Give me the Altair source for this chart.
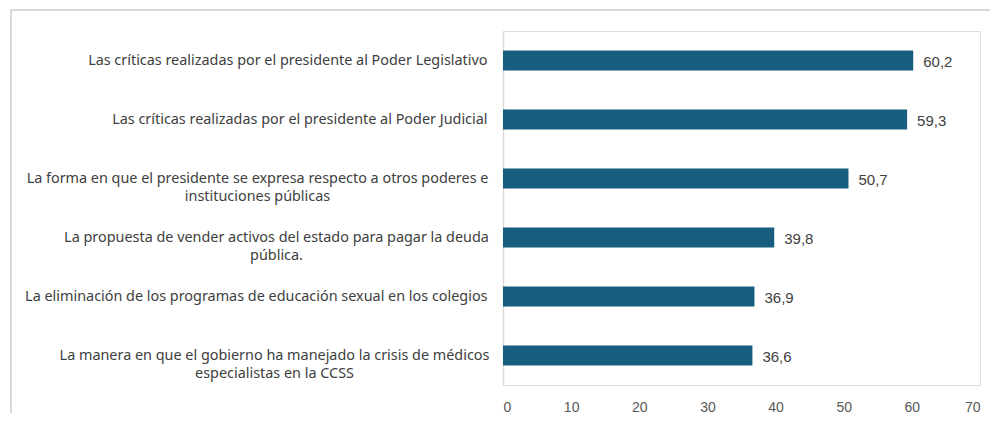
import altair as alt
import pandas as pd

categories = [
    "Las críticas realizadas por el presidente al Poder Legislativo",
    "Las críticas realizadas por el presidente al Poder Judicial",
    "La forma en que el presidente se expresa respecto a otros poderes e|instituciones públicas",
    "La propuesta de vender activos del estado para pagar la deuda|pública.",
    "La eliminación de los programas de educación sexual en los colegios",
    "La manera en que el gobierno ha manejado la crisis de médicos|especialistas en la CCSS",
]
values = [60.2, 59.3, 50.7, 39.8, 36.9, 36.6]
x_ticks = [0, 10, 20, 30, 40, 50, 60, 70]

df = pd.DataFrame({
    "cat": categories,
    "val": values,
    "lab": [f"{v:.1f}".replace(".", ",") for v in values],
})

BAR = "#165D7E"
FRAME = "#D9D9D9"

label_pad = {
    "condition": [
        {"test": "indexof(datum.value, 'La forma') == 0", "value": 246},
        {"test": "indexof(datum.value, 'La propuesta') == 0", "value": 227},
        {"test": "indexof(datum.value, 'La manera') == 0", "value": 229},
    ],
    "value": 16,
}
label_align = {
    "condition": {"test": "indexof(datum.value, '|') >= 0", "value": "center"},
    "value": "right",
}

y_enc = alt.Y(
    "cat:N",
    sort=categories,
    scale=alt.Scale(paddingInner=0.66, paddingOuter=0.33),
    axis=alt.Axis(
        title=None,
        labelExpr="split(datum.label, '|')",
        labelFont="Noto Sans",
        labelFontSize=14.4,
        labelColor="#404040",
        labelLimit=0,
        labelLineHeight=18,
        labelPadding=label_pad,
        labelAlign=label_align,
        labelBaseline="middle",
        ticks=False,
        domainColor=FRAME,
        domainWidth=1.5,
        grid=False,
    ),
)
x_enc = alt.X(
    "val:Q",
    scale=alt.Scale(domain=[0, 70], nice=False),
    axis=alt.Axis(
        title=None,
        values=x_ticks,
        labelFont="Liberation Sans",
        labelFontSize=14,
        labelColor="#595959",
        labelPadding=15,
        ticks=False,
        domain=False,
        grid=False,
    ),
)

base = alt.Chart(df)
bars = base.mark_bar(color=BAR).encode(x=x_enc, y=y_enc)
text = base.mark_text(
    align="left", baseline="middle", dx=10, dy=1,
    font="Liberation Sans", fontSize=15, color="#404040",
).encode(x="val:Q", y=alt.Y("cat:N", sort=categories), text="lab:N")

frame_df = pd.DataFrame({"a": [0]})
top_rule = alt.Chart(frame_df).mark_rule(color=FRAME, strokeWidth=2).encode(
    x=alt.value(-492), x2=alt.value(500), y=alt.value(-21)
)
left_rule = alt.Chart(frame_df).mark_rule(color=FRAME, strokeWidth=2).encode(
    x=alt.value(-492), y=alt.value(-22), y2=alt.value(400)
)

chart = alt.layer(top_rule, left_rule, bars, text).properties(
    width=477,
    height=354,
    padding={"left": 495, "top": 23, "right": 10, "bottom": 28},
    autosize=alt.AutoSizeParams(type="none"),
).configure_view(stroke=None).configure(background="white")

chart.save("out.html", embed_options={"renderer": "svg", "actions": False})
